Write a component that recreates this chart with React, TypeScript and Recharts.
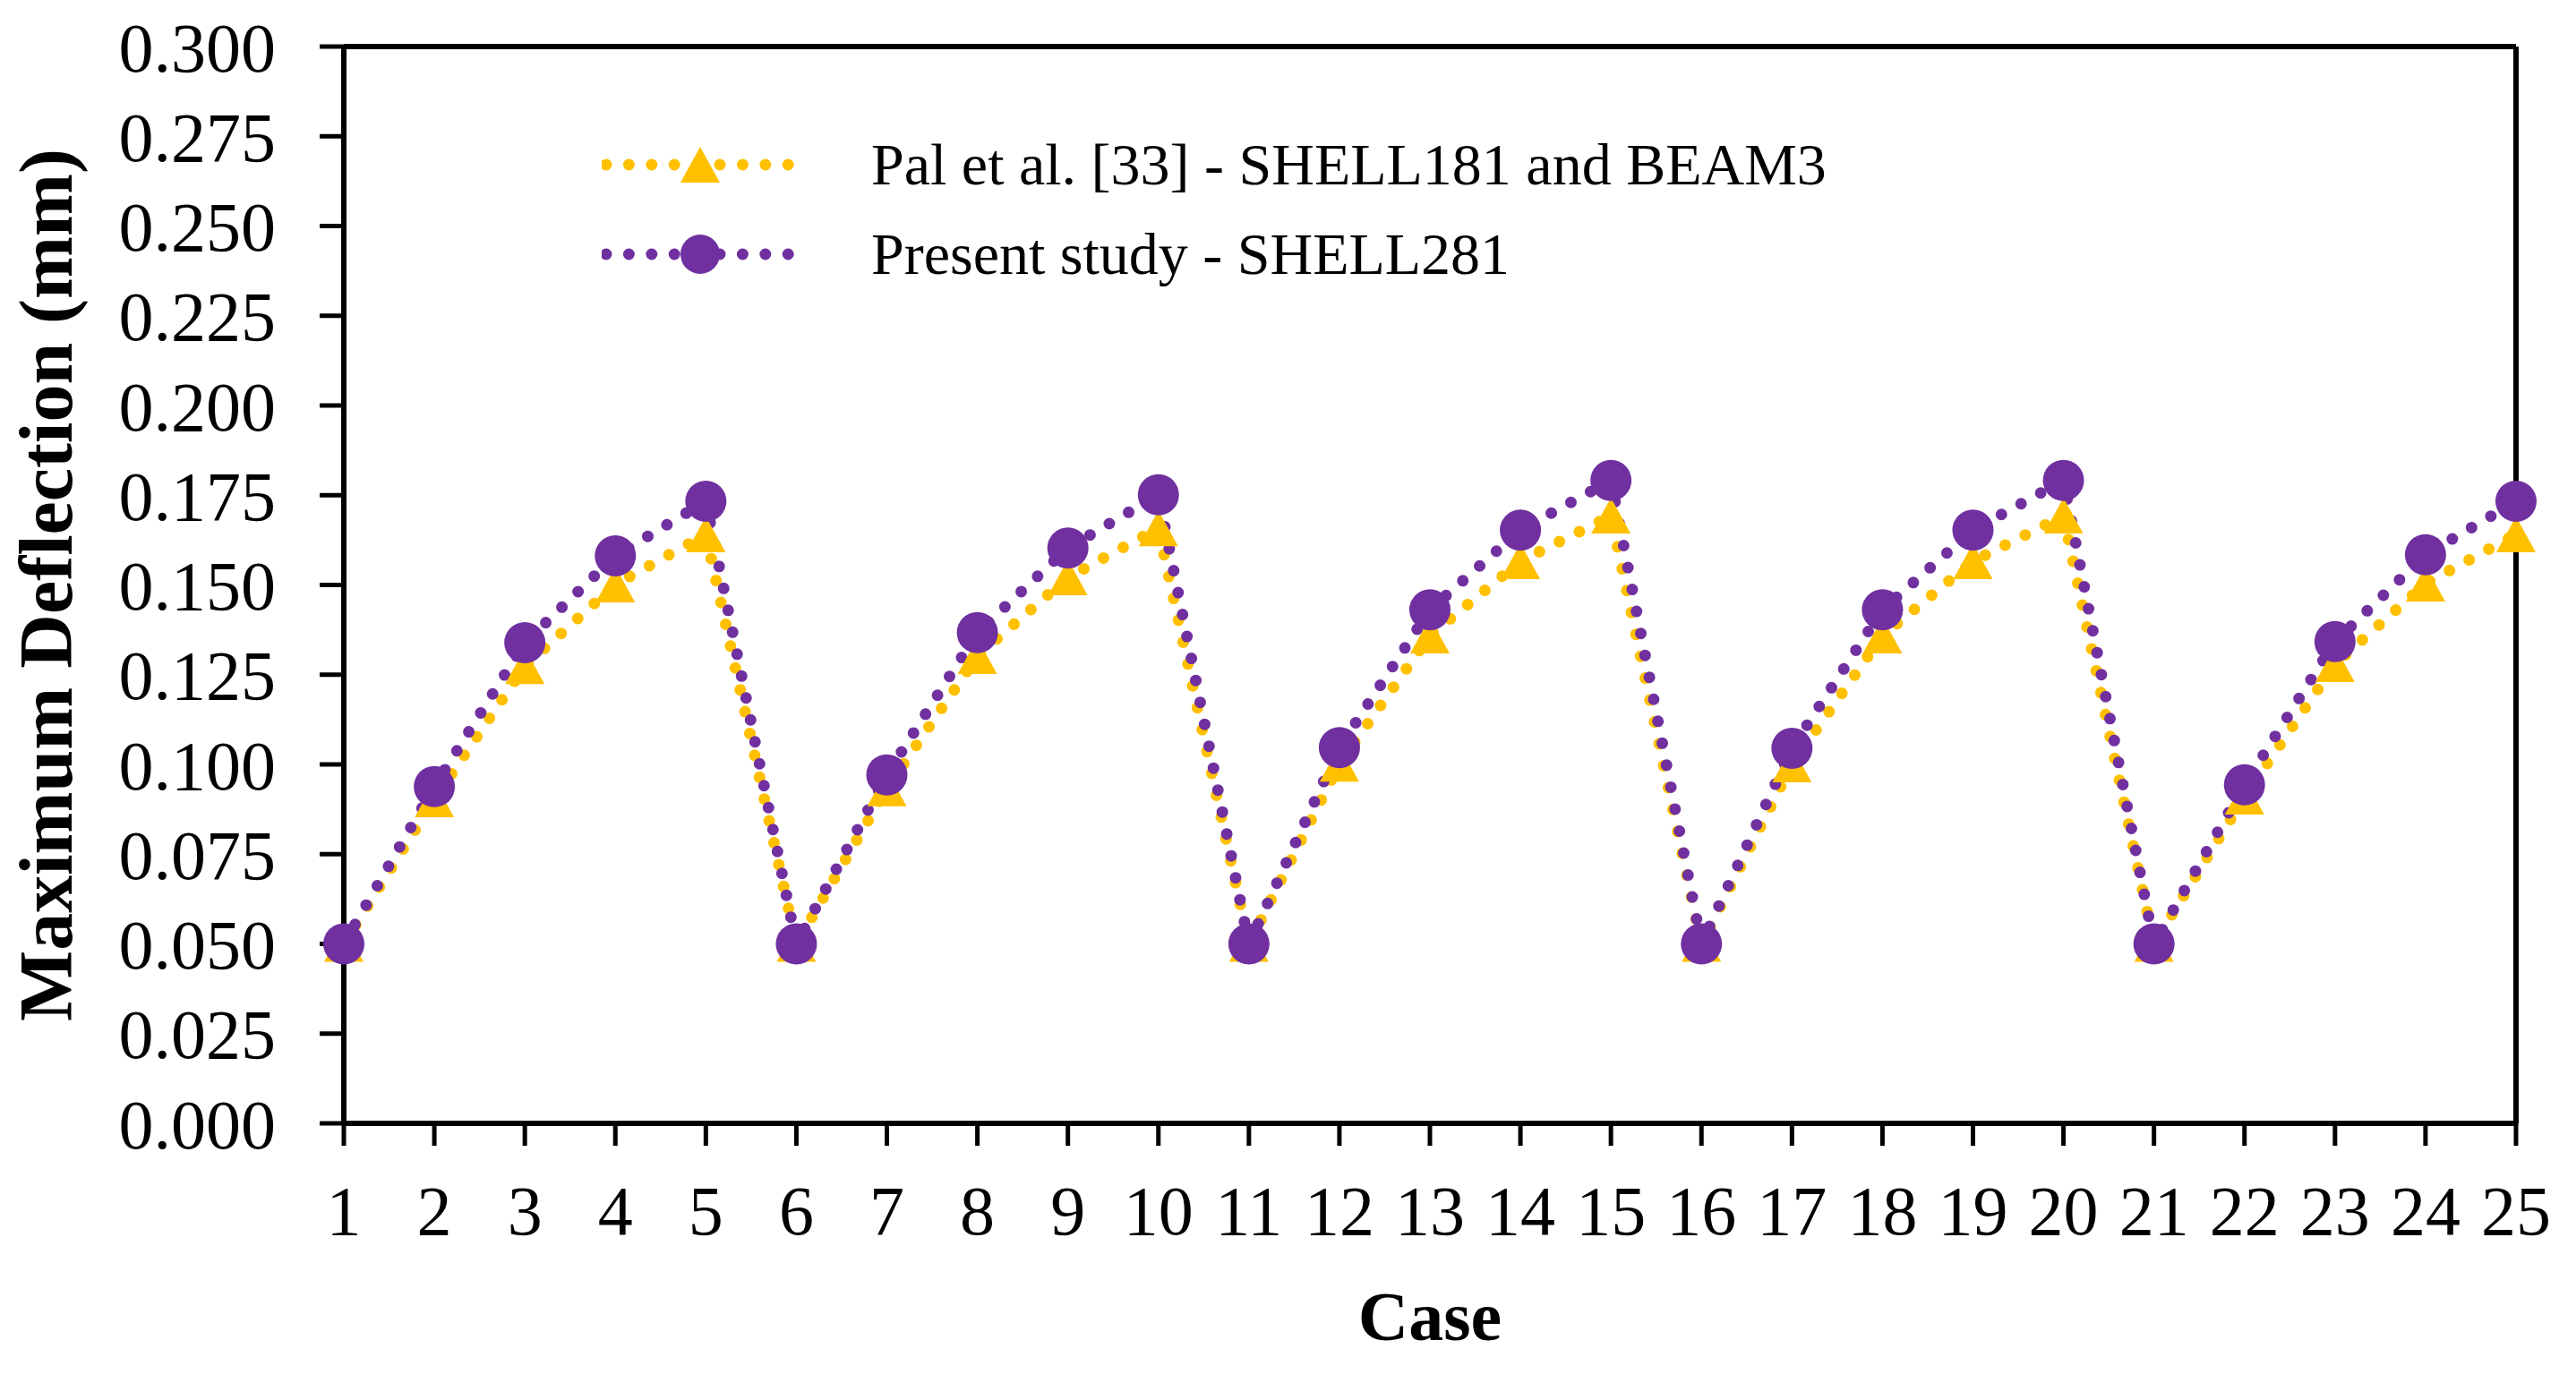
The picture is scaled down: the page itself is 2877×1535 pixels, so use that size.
import React from 'react';
import {
  LineChart,
  Line,
  XAxis,
  YAxis,
  Legend,
  ReferenceLine,
} from 'recharts';

const cases = [
  1, 2, 3, 4, 5, 6, 7, 8, 9, 10, 11, 12, 13, 14, 15, 16, 17, 18, 19, 20, 21, 22,
  23, 24, 25,
];

// Pal et al. [33] - SHELL181 and BEAM3
const palValues = [
  0.05, 0.0903, 0.1274, 0.1501, 0.1641, 0.05, 0.0933, 0.1302, 0.1521, 0.1658,
  0.05, 0.1002, 0.1359, 0.1566, 0.1693, 0.05, 0.1, 0.1359, 0.1566, 0.1693, 0.05,
  0.091, 0.1279, 0.1504, 0.1641,
];

// Present study - SHELL281
const presentValues = [
  0.05, 0.0938, 0.1339, 0.1581, 0.1733, 0.05, 0.0971, 0.1367, 0.1603, 0.1751,
  0.05, 0.1047, 0.1431, 0.1653, 0.1791, 0.05, 0.1045, 0.1431, 0.1653, 0.1791,
  0.05, 0.0943, 0.1342, 0.1584, 0.1733,
];

const yTicks = [
  0, 0.025, 0.05, 0.075, 0.1, 0.125, 0.15, 0.175, 0.2, 0.225, 0.25, 0.275, 0.3,
];

const palName = 'Pal et al. [33] - SHELL181 and BEAM3';
const presentName = 'Present study - SHELL281';

const GOLD = '#FFC000';
const PURPLE = '#7030A0';
const FONT = '"Liberation Serif", "Times New Roman", serif';

const data = cases.map((c, i) => ({
  case: c,
  pal: palValues[i],
  present: presentValues[i],
}));

const TriangleDot = (props: any) => {
  const { cx, cy, index } = props;
  if (cx == null || cy == null) return null;
  return (
    <polygon
      key={`tri-${index}`}
      points={`${cx},${cy - 20} ${cx - 22},${cy + 20} ${cx + 22},${cy + 20}`}
      fill={GOLD}
    />
  );
};

const LegendRow = ({ color, shape, text }: { color: string; shape: string; text: string }) => (
  <div style={{ display: 'flex', alignItems: 'center', height: 100 }}>
    <svg width={215} height={60} style={{ display: 'block' }}>
      <line
        x1={5}
        y1={30}
        x2={210}
        y2={30}
        stroke={color}
        strokeWidth={13}
        strokeDasharray='0 25.4'
        strokeLinecap='round'
      />
      {shape === 'triangle' ? (
        <polygon points='110,10 88,50 132,50' fill={color} />
      ) : (
        <circle cx={110} cy={30} r={22} fill={color} />
      )}
    </svg>
    <span
      style={{
        marginLeft: 86,
        fontSize: 66,
        fontFamily: FONT,
        color: '#000',
        whiteSpace: 'nowrap',
        lineHeight: '60px',
      }}
    >
      {text}
    </span>
  </div>
);

const renderLegend = () => (
  <div>
    <LegendRow color={GOLD} shape='triangle' text={palName} />
    <LegendRow color={PURPLE} shape='circle' text={presentName} />
  </div>
);

const App = () => {
  return (
    <div
      style={{
        position: 'absolute',
        left: 0,
        top: 0,
        width: 2877,
        height: 1535,
        background: '#fff',
        fontFamily: FONT,
      }}
    >
      <LineChart
        width={2877}
        height={1535}
        data={data}
        margin={{ top: 52, right: 67, bottom: 0, left: 0 }}
      >
        <XAxis
          dataKey='case'
          type='number'
          domain={[1, 25]}
          ticks={cases}
          interval={0}
          height={280}
          tickSize={25}
          tickMargin={44}
          axisLine={{ stroke: '#000', strokeWidth: 6 }}
          tickLine={{ stroke: '#000', strokeWidth: 5 }}
          tick={{ fill: '#000', fontSize: 78, fontFamily: FONT }}
          label={(props: any) => {
            const vb = props.viewBox || {};
            return (
              <text
                x={vb.x + vb.width / 2}
                y={vb.y + 242}
                textAnchor='middle'
                fontSize={78}
                fontWeight='bold'
                fontFamily={FONT}
                fill='#000'
              >
                Case
              </text>
            );
          }}
        />
        <YAxis
          type='number'
          domain={[0, 0.3]}
          ticks={yTicks}
          interval={0}
          width={384}
          tickSize={27}
          tickMargin={49}
          tickFormatter={(v: number) => v.toFixed(3)}
          axisLine={{ stroke: '#000', strokeWidth: 6 }}
          tickLine={{ stroke: '#000', strokeWidth: 5 }}
          tick={{ fill: '#000', fontSize: 78, fontFamily: FONT }}
          label={(props: any) => {
            const vb = props.viewBox || {};
            const cy = vb.y + vb.height / 2;
            return (
              <text
                x={80}
                y={cy}
                transform={`rotate(-90, 80, ${cy})`}
                textAnchor='middle'
                fontSize={84}
                fontWeight='bold'
                fontFamily={FONT}
                fill='#000'
              >
                Maximum Deflection (mm)
              </text>
            );
          }}
        />
        <ReferenceLine y={0.3} stroke='#000' strokeWidth={6} />
        <ReferenceLine x={25} stroke='#000' strokeWidth={6} />
        <Legend
          layout='vertical'
          align='center'
          verticalAlign='middle'
          content={renderLegend}
          wrapperStyle={{ left: 672, top: 134, width: 1600 }}
        />
        <Line
          type='linear'
          dataKey='pal'
          name={palName}
          stroke={GOLD}
          strokeWidth={13}
          strokeDasharray='0 25'
          strokeLinecap='round'
          dot={TriangleDot}
          activeDot={false}
          isAnimationActive={false}
        />
        <Line
          type='linear'
          dataKey='present'
          name={presentName}
          stroke={PURPLE}
          strokeWidth={13}
          strokeDasharray='0 25'
          strokeLinecap='round'
          dot={{ r: 23, fill: PURPLE, stroke: 'none', strokeWidth: 0, strokeDasharray: 'none' }}
          activeDot={false}
          isAnimationActive={false}
        />
      </LineChart>
    </div>
  );
};

export default App;
